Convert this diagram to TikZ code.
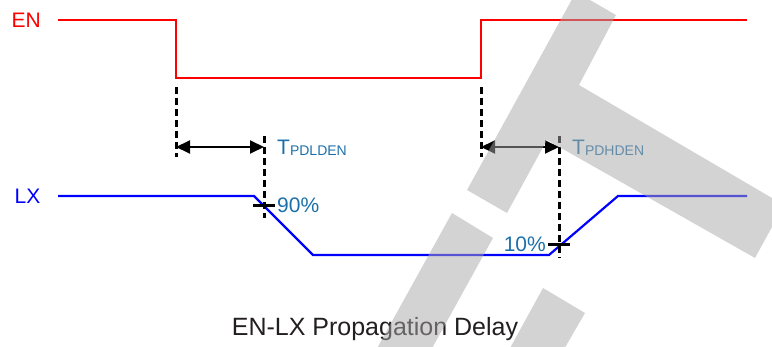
\documentclass[tikz,border=0pt]{standalone}
\usepackage{fontspec}
\setmainfont{Liberation Sans}
\usetikzlibrary{arrows.meta}
\definecolor{enred}{RGB}{255,0,0}
\definecolor{lxblue}{RGB}{0,0,255}
\definecolor{lblblue}{RGB}{28,112,170}
\definecolor{wmgray}{RGB}{168,168,168}
\definecolor{titlegray}{RGB}{35,31,32}
\newcommand{\subsz}{\fontsize{14}{14}\selectfont}
\begin{document}
\begin{tikzpicture}[x=1pt,y=-1pt,
  sig/.style={line width=2.2pt, line join=miter},
  guide/.style={line width=3pt, dash pattern=on 7pt off 4pt},
  tickmark/.style={line width=3pt},
  dimline/.style={line width=1.9pt, {Triangle[length=14pt,width=13pt]}-{Triangle[length=14pt,width=13pt]}},
  lbl/.style={text=lblblue, font=\fontsize{21}{21}\selectfont, inner sep=0pt},
  wm/.style={fill=wmgray, fill opacity=0.5, draw=none}]
\useasboundingbox (0,0) rectangle (772,347);

% signal labels
\node[anchor=base west, inner sep=0pt, text=enred, font=\fontsize{21}{21}\selectfont] (en) at (11.5,28) {EN};
\node[anchor=base west, inner sep=0pt, text=lxblue, font=\fontsize{21}{21}\selectfont] (lx) at (14.5,203.5) {LX};

% EN waveform
\coordinate (e0) at (58,20);
\coordinate (e1) at (176,20);
\coordinate (e2) at (176,78);
\coordinate (e3) at (481,78);
\coordinate (e4) at (481,20);
\coordinate (e5) at (747,20);
\draw[sig, enred] (e0) -- (e1) -- (e2) -- (e3) -- (e4) -- (e5);

% LX waveform
\coordinate (l0) at (58,196);
\coordinate (l1) at (254,196);
\coordinate (l2) at (313,255);
\coordinate (l3) at (549,255);
\coordinate (l4) at (618,196);
\coordinate (l5) at (747,196);
\draw[sig, lxblue] (l0) -- (l1) -- (l2) -- (l3) -- (l4) -- (l5);

% guide lines
\coordinate (g1a) at (176,87);  \coordinate (g1b) at (176,157);
\coordinate (g2a) at (264,136); \coordinate (g2b) at (264,218);
\coordinate (g3a) at (481,87);  \coordinate (g3b) at (481,157);
\coordinate (g4a) at (559,136); \coordinate (g4b) at (559,258);
\draw[guide] (g1a) -- (g1b);
\draw[guide] (g2a) -- (g2b);
\draw[guide] (g3a) -- (g3b);
\draw[guide] (g4a) -- (g4b);

% crosshair ticks
\coordinate (t1a) at (253,205.5); \coordinate (t1b) at (275,205.5);
\coordinate (t2a) at (548,245);   \coordinate (t2b) at (570,245);
\draw[tickmark] (t1a) -- (t1b);
\draw[tickmark] (t2a) -- (t2b);

% dimension arrows
\coordinate (d1a) at (176,147); \coordinate (d1b) at (264,147);
\coordinate (d2a) at (481,147); \coordinate (d2b) at (559,147);
\draw[dimline] (d1a) -- (d1b);
\draw[dimline] (d2a) -- (d2b);

% labels
\node[lbl, anchor=base west] (tl) at (277,155) {T\raisebox{-0.8pt}{\subsz PDLDEN}};
\node[lbl, anchor=base west] (th) at (572,155) {T\raisebox{-0.8pt}{\subsz PDHDEN}};
\node[lbl, anchor=base west] (p90) at (277,213) {90\%};
\node[lbl, anchor=base east] (p10) at (546,252) {10\%};

% title
\node[anchor=base, inner sep=0pt, text=titlegray, font=\fontsize{25}{25}\selectfont] (title) at (375,336) {EN-LX Propagation Delay};

% watermark
\begin{scope}
\clip (0,0) rectangle (772,347);
\fill[wm] (576,-8) -- (616,15) -- (579,85) -- (784,205) -- (755,258) -- (547,140) -- (507,213) -- (467,190) -- cycle;
\fill[wm] (452,213) -- (493,238) -- (420,370) -- (365,370) -- cycle;
\fill[wm] (543,288) -- (585,313) -- (552,370) -- (498,370) -- cycle;
\end{scope}
\end{tikzpicture}
\end{document}
